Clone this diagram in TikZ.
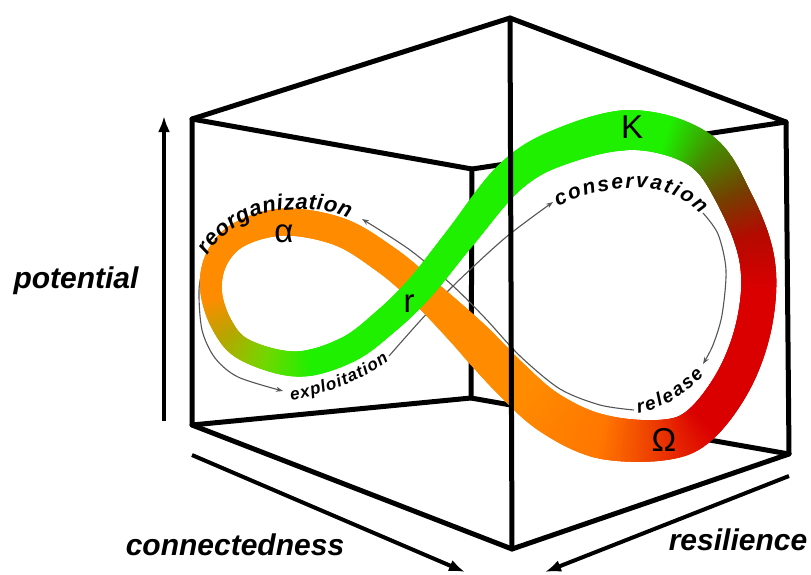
\documentclass[tikz,border=0pt]{standalone}
\usepackage{fontspec}
\setmainfont{Liberation Sans}
\usetikzlibrary{arrows.meta,decorations.markings}

\definecolor{bandorange}{RGB}{255,140,0}
\definecolor{deeporange}{RGB}{255,118,0}
\definecolor{omegaorange}{RGB}{240,85,0}
\definecolor{bandolive}{RGB}{185,165,0}
\definecolor{bandlime}{RGB}{115,215,0}
\definecolor{bandgreen}{RGB}{30,240,0}
\definecolor{bandleaf}{RGB}{70,140,0}
\definecolor{bandbrown}{RGB}{115,65,0}
\definecolor{banddarkred}{RGB}{180,10,0}
\definecolor{bandred}{RGB}{218,0,0}
\definecolor{flowgray}{RGB}{85,85,85}

\newcommand\phasefont[1]{\bfseries\itshape\fontsize{#1}{#1}\selectfont}

% centre line of the figure-eight band
\newcommand\infinitycurve{plot[smooth cycle, tension=0.6] coordinates {
    (663,440) (601,436.5) (550,413) (510,378) (467,333) (420,288) (385,259)
    (340,232) (285,222) (240,234) (217,258) (211,290) (222,325) (245,350)
    (297,364) (347,350) (385,322) (420,288) (460,238) (510,177) (560,147)
    (633,130) (700,150) (735,200) (757,260) (755,320) (735,378) (700,425)}}

% one short slice of the band, colour and width between two key values
\newcommand\bandslice[6]{%
  \pgfmathsetmacro\slicet{max(0,min(1,(\pgfkeysvalueof{/pgf/decoration/mark info/distance from start}/\pgfdecoratedpathlength-#1)/(#2-#1)))}%
  \pgfmathtruncatemacro\slicep{100*\slicet}%
  \pgfmathsetmacro\slicew{#5+(#6-#5)*\slicet}%
  \draw[line width=\slicew pt, color=#4!\slicep!#3] (-1.6pt,0) -- (1.6pt,0);%
}

% a word set letter by letter along a path
% #1 path, #2 size, #3 extra spacing, #4 start, #5 letter/width(em) list
\newcommand\wordalong[5]{%
  \xdef\wordpos{#4}%
  \foreach \ch/\cw in {#5}{%
    \pgfmathsetmacro\chmid{\wordpos+\cw*#2/2}%
    \path[postaction={decorate,decoration={markings,
        mark=at position \chmid pt with {\node[letter,font=\phasefont{#2}] {\ch};}}}] #1;%
    \pgfmathsetmacro\wordnext{\wordpos+\cw*#2+#3}%
    \xdef\wordpos{\wordnext}%
  }%
}

\begin{document}
\begin{tikzpicture}[
    x=1pt, y=-1pt,
    edge/.style={line width=5pt, line join=round, line cap=round},
    axisarrow/.style={line width=4pt, -{Latex[length=16pt,width=12pt]}},
    flow/.style={draw=flowgray, line width=1.1pt, -{Stealth[length=7pt,width=5pt]}},
    letter/.style={transform shape, anchor=base, inner sep=0pt},
    axislabel/.style={font=\phasefont{30}, inner sep=0pt},
    phaselabel/.style={font=\fontsize{33}{33}\selectfont, inner sep=0pt},
    band part/.style n args={6}{postaction={decorate, decoration={markings,
        mark=between positions #1 and #2 step 1.13pt with {\bandslice{#1}{#2}{#3}{#4}{#5}{#6}}}}}
  ]
  \useasboundingbox (0,0) rectangle (811,574);

  %%%%%%%%%%%%%%%%%%%%%%%%%%%%%%%%%%%%%%%%%%%%%%%%%%%%%%%%
  % CUBE corners
  %%%%%%%%%%%%%%%%%%%%%%%%%%%%%%%%%%%%%%%%%%%%%%%%%%%%%%%%
  \coordinate (top)     at (510,18);
  \coordinate (topL)    at (192,119);
  \coordinate (topR)    at (786,122);
  \coordinate (backTop) at (472,169);
  \coordinate (backBot) at (471,398);
  \coordinate (botL)    at (192,425);
  \coordinate (botR)    at (789,454);
  \coordinate (bottom)  at (512,549);

  % hidden edges first, the band covers them
  \draw[edge] (topL) -- (backTop) -- (topR);
  \draw[edge] (botL) -- (backBot) -- (botR);
  \draw[edge] (backTop) -- (backBot);

  %%%%%%%%%%%%%%%%%%%%%%%%%%%%%%%%%%%%%%%%%%%%%%%%%%%%%%%%
  % thin arrows of the cycle
  %%%%%%%%%%%%%%%%%%%%%%%%%%%%%%%%%%%%%%%%%%%%%%%%%%%%%%%%
  \draw[flow] plot[smooth] coordinates {(389,356) (420,321) (453,286) (505,238) (553,202)};
  \draw[flow] plot[smooth] coordinates {(703,213) (718,234) (726,270) (722,315) (713,345) (703,364)};
  \draw[flow] plot[smooth] coordinates {(634,410) (600,405) (560,389) (520,356) (485,318) (453,286) (410,250) (362,219)};
  \draw[flow] plot[smooth] coordinates {(204,262) (199,290) (202,330) (215,358) (238,377) (283,391)};

  %%%%%%%%%%%%%%%%%%%%%%%%%%%%%%%%%%%%%%%%%%%%%%%%%%%%%%%%
  % the band, slice by slice (green passes over orange at r)
  %%%%%%%%%%%%%%%%%%%%%%%%%%%%%%%%%%%%%%%%%%%%%%%%%%%%%%%%
  \foreach \fa/\fb/\ca/\cb/\wa/\wb in {
      0/0.06/deeporange/bandorange/44/40,
      0.06/0.10/bandorange/bandorange/40/38,
      0.10/0.15/bandorange/bandorange/38/30,
      0.15/0.26/bandorange/bandorange/30/27,
      0.26/0.30/bandorange/bandorange/27/24,
      0.30/0.335/bandorange/bandorange/24/21,
      0.335/0.36/bandorange/bandolive/21/21,
      0.36/0.39/bandolive/bandlime/21/23,
      0.39/0.42/bandlime/bandgreen/23/26,
      0.42/0.545/bandgreen/bandgreen/26/29,
      0.545/0.60/bandgreen/bandgreen/29/33,
      0.60/0.68/bandgreen/bandgreen/33/40,
      0.68/0.71/bandgreen/bandgreen/40/39,
      0.71/0.74/bandgreen/bandleaf/39/37,
      0.74/0.77/bandleaf/bandbrown/37/35,
      0.77/0.80/bandbrown/banddarkred/35/35,
      0.80/0.835/banddarkred/bandred/35/35,
      0.835/0.93/bandred/bandred/35/38,
      0.93/0.999/bandred/deeporange/38/44}
    \path[band part={\fa}{\fb}{\ca}{\cb}{\wa}{\wb}] \infinitycurve;

  % front edges on top
  \draw[edge] (topL) -- (top) -- (topR) -- (botR) -- (bottom) -- (botL) -- cycle;
  \draw[edge] (top) -- (bottom);

  %%%%%%%%%%%%%%%%%%%%%%%%%%%%%%%%%%%%%%%%%%%%%%%%%%%%%%%%
  % phase names along the arrows
  %%%%%%%%%%%%%%%%%%%%%%%%%%%%%%%%%%%%%%%%%%%%%%%%%%%%%%%%
  \wordalong{(207,256) .. controls (220,235) and (245,214) .. (285,210) .. controls (318,207) and (342,212) .. (362,226)}{22}{0.5}{1}
    {r/.389,e/.556,o/.611,r/.389,g/.611,a/.556,n/.611,i/.278,z/.5,a/.556,t/.333,i/.278,o/.611,n/.611}
  \wordalong{(557,207) .. controls (585,193) and (615,187) .. (642,188) .. controls (670,189) and (695,203) .. (710,226)}{21}{2}{1}
    {c/.556,o/.611,n/.611,s/.556,e/.556,r/.389,v/.556,a/.556,t/.333,i/.278,o/.611,n/.611}
  \wordalong{(638,413) .. controls (665,408) and (690,393) .. (712,366)}{19}{2}{0}
    {r/.389,e/.556,l/.278,e/.556,a/.556,s/.556,e/.556}
  \wordalong{(291,400) .. controls (325,395) and (365,380) .. (396,356)}{17}{1}{0}
    {e/.556,x/.556,p/.611,l/.278,o/.611,i/.278,t/.333,a/.556,t/.333,i/.278,o/.611,n/.611}

  % Greek phase letters
  \node[phaselabel] (alpha) at (284,234) {α};
  \node[phaselabel] (kay)   at (632,127) {K};
  \node[phaselabel] (arr)   at (409,304) {r};
  \node[phaselabel] (omega) at (664,440) {Ω};

  %%%%%%%%%%%%%%%%%%%%%%%%%%%%%%%%%%%%%%%%%%%%%%%%%%%%%%%%
  % AXES
  %%%%%%%%%%%%%%%%%%%%%%%%%%%%%%%%%%%%%%%%%%%%%%%%%%%%%%%%
  \coordinate (potLow)  at (164,421);
  \coordinate (potHigh) at (164,116);
  \coordinate (conStart) at (192,455);
  \coordinate (conEnd)   at (465,572);
  \coordinate (resStart) at (789,476);
  \coordinate (resEnd)   at (545,572);

  \draw[axisarrow] (potLow) -- (potHigh);
  \draw[axisarrow] (conStart) -- (conEnd);
  \draw[axisarrow] (resStart) -- (resEnd);

  \node[axislabel] (potential) at (76,281) {potential};
  \node[axislabel] (connected) at (235,545) {connectedness};
  \node[axislabel] (resilience) at (738,540) {resilience};

\end{tikzpicture}
\end{document}
